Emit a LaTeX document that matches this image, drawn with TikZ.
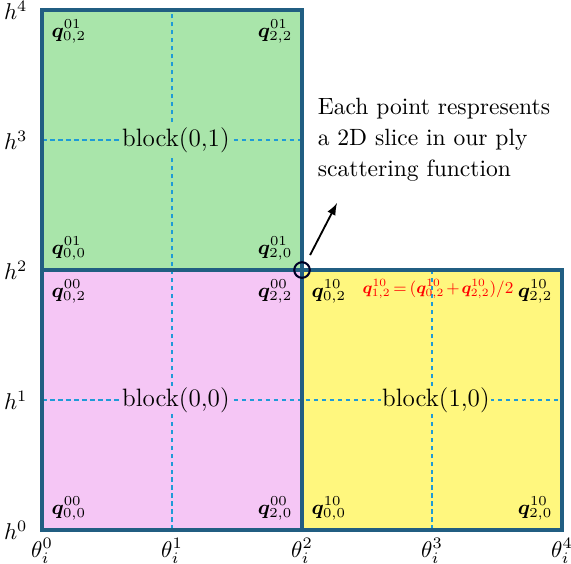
\documentclass[tikz,border=0pt]{standalone}
\usepackage{amsmath}
\usepackage{amssymb}
\usepackage{bm}

\definecolor{blkgreen}{HTML}{A9E5AA}
\definecolor{blkpink}{HTML}{F5C6F5}
\definecolor{blkyellow}{HTML}{FFF77E}
\definecolor{blkedge}{HTML}{215E82}
\definecolor{gridblue}{HTML}{1E9BD7}

\begin{document}
\begin{tikzpicture}[
    x=2cm, y=2cm,
    edge/.style={draw=blkedge, line width=1.4pt},
    half/.style={gridblue, dashed, dash pattern=on 2pt off 1.5pt, line width=0.5pt},
    corner/.style={inner sep=4pt, font=\small},
    lbl/.style={font=\fontsize{11}{14}\selectfont, inner sep=0.5pt},
    link/.style={-latex, thick}
]
\useasboundingbox (-0.323,-0.254) rectangle (4.069,4.077);

% Blocks
\fill[blkgreen] (0,2) rectangle (2,4);
\fill[blkpink] (0,0) rectangle (2,2);
\fill[blkyellow] (2,0) rectangle (4,2);

% Half lines
\draw[half] (1,0) -- (1,4);
\draw[half] (3,0) -- (3,2);
\draw[half] (0,1) -- (4,1);
\draw[half] (0,3) -- (2,3);

% Borders
\draw[edge] (0,2) rectangle (2,4);
\draw[edge] (0,0) rectangle (2,2);
\draw[edge] (2,0) rectangle (4,2);

% Block names
\node[lbl, fill=blkgreen] (n01) at (1.03,3) {block(0,1)};
\node[lbl, fill=blkpink] (n00) at (1.03,1) {block(0,0)};
\node[lbl, fill=blkyellow] (n10) at (3.03,1) {block(1,0)};

% Corner points
\node[corner, anchor=north west] (q01a) at (0,4) {$\bm{q}^{01}_{0,2}$};
\node[corner, anchor=north east] (q01b) at (2,4) {$\bm{q}^{01}_{2,2}$};
\node[corner, anchor=south west] (q01c) at (0,2) {$\bm{q}^{01}_{0,0}$};
\node[corner, anchor=south east] (q01d) at (2,2) {$\bm{q}^{01}_{2,0}$};

\node[corner, anchor=north west] (q00a) at (0,2) {$\bm{q}^{00}_{0,2}$};
\node[corner, anchor=north east] (q00b) at (2,2) {$\bm{q}^{00}_{2,2}$};
\node[corner, anchor=south west] (q00c) at (0,0) {$\bm{q}^{00}_{0,0}$};
\node[corner, anchor=south east] (q00d) at (2,0) {$\bm{q}^{00}_{2,0}$};

\node[corner, anchor=north west] (q10a) at (2,2) {$\bm{q}^{10}_{0,2}$};
\node[corner, anchor=north east] (q10b) at (4,2) {$\bm{q}^{10}_{2,2}$};
\node[corner, anchor=south west] (q10c) at (2,0) {$\bm{q}^{10}_{0,0}$};
\node[corner, anchor=south east] (q10d) at (4,0) {$\bm{q}^{10}_{2,0}$};

\node[corner, anchor=north, text=red] (qmid) at (3.046,2)
  {\resizebox{66pt}{!}{$\medmuskip=2mu\thickmuskip=3mu\bm{q}^{10}_{1,2}=(\bm{q}^{10}_{0,2}+\bm{q}^{10}_{2,2})/2$}};

% Axes
\foreach \k in {0,...,4} {
  \node[anchor=east] (h\k) at (-0.05,\k) {$h^{\k}$};
  \node[anchor=north, inner sep=1pt] (t\k) at (\k,-0.045) {$\theta_i^{\k}$};
}

% Slice point
\node[draw=black!85!blue, line width=0.9pt, circle, minimum size=0.24cm, inner sep=0pt] (pt) at (2,2) {};
\node[anchor=west, align=left, font=\fontsize{10.3}{13.5}\selectfont] (note) at (2.06,3)
  {Each point respresents\\a 2D slice in our ply\\scattering function};
\coordinate (from) at (2.062,2.115);
\coordinate (to) at (2.269,2.515);
\draw[link] (from) -- (to);

\end{tikzpicture}
\end{document}
